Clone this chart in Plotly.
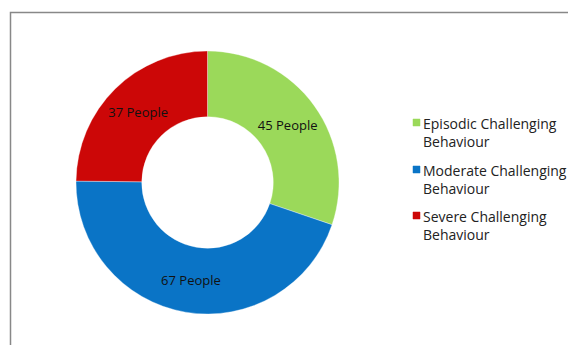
import plotly.graph_objects as go

# Challenging behaviour categories and head counts
categories = [
    "Episodic Challenging<br>Behaviour",
    "Moderate Challenging<br>Behaviour",
    "Severe Challenging<br>Behaviour",
]
people = [45, 67, 37]
slice_text = [f"{v} People" for v in people]
colors = ["#9BD95A", "#0A74C6", "#CC0707"]

W, H = 568, 345
FONT = "Open Sans, sans-serif"

fig = go.Figure(
    go.Pie(
        labels=categories,
        values=people,
        text=slice_text,
        textinfo="text",
        textposition="inside",
        insidetextorientation="horizontal",
        textfont=dict(family=FONT, size=13, color="#111111"),
        hole=0.5,
        sort=False,
        direction="clockwise",
        rotation=0,
        marker=dict(colors=colors, line=dict(color="rgba(255,255,255,0.35)", width=1)),
        domain=dict(x=[74 / W, 341 / W], y=[1 - 314 / H, 1 - 51 / H]),
        showlegend=False,
    )
)

# Chart frame
fig.add_shape(
    type="rect", xref="paper", yref="paper",
    x0=10.5 / W, x1=1.02, y0=-0.02, y1=1 - 12.5 / H,
    line=dict(color="#888888", width=1.5),
)

# Legend: colour swatch plus two-line label per category
legend_top = [112, 159, 205]   # top of each entry, px from the top
for name, col, top in zip(categories, colors, legend_top):
    fig.add_shape(
        type="rect", xref="paper", yref="paper",
        x0=413 / W, x1=420 / W,
        y0=1 - (top + 14) / H, y1=1 - (top + 7) / H,
        fillcolor=col, line=dict(color=col, width=0.5),
    )
    fig.add_annotation(
        text=name, xref="paper", yref="paper",
        x=421 / W, y=1 - top / H, xanchor="left", yanchor="top",
        align="left", showarrow=False,
        font=dict(family=FONT, size=14, color="#222222"),
    )

fig.update_layout(
    width=W, height=H,
    margin=dict(l=0, r=0, t=0, b=0),
    paper_bgcolor="white",
    plot_bgcolor="white",
    font=dict(family=FONT, size=12, color="#222222"),
)

fig.write_html("out.html")
